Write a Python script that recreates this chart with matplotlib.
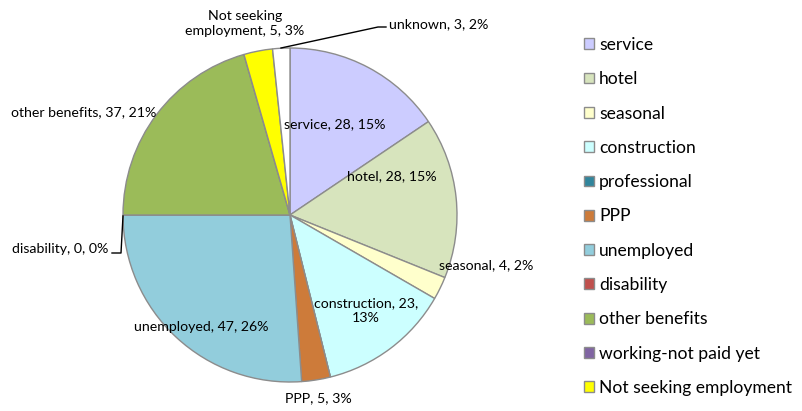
import matplotlib
matplotlib.use("Agg")
import matplotlib.pyplot as plt

plt.rcParams['font.family'] = ['Lato', 'DejaVu Sans']

categories = ['service', 'hotel', 'seasonal', 'construction', 'professional', 'PPP',
              'unemployed', 'disability', 'other benefits', 'working-not paid yet',
              'Not seeking employment', 'unknown']
counts = [28, 28, 4, 23, 0, 5, 47, 0, 37, 0, 5, 3]
pct_labels = ['15%', '15%', '2%', '13%', '0%', '3%', '26%', '0%', '21%', '0%', '3%', '2%']
colors = ['#CCCCFF', '#D7E4BD', '#FFFFCC', '#CCFFFF', '#31859C', '#CD7B3A',
          '#92CDDC', '#C0504D', '#9BBB59', '#8064A2', '#FFFF00', '#FFFFFF']

# where each data label sits (pixel coords, y from top)
label_pos = {
    'service': (335, 124, 'service, 28, 15%'),
    'hotel': (392, 176, 'hotel, 28, 15%'),
    'seasonal': (486, 265, 'seasonal, 4, 2%'),
    'construction': (366, 311, 'construction, 23,\n13%'),
    'PPP': (318, 398, 'PPP, 5, 3%'),
    'unemployed': (201, 327, 'unemployed, 47, 26%'),
    'disability': (60, 249, 'disability, 0, 0%'),
    'other benefits': (84, 112, 'other benefits, 37, 21%'),
    'Not seeking employment': (245, 23, 'Not seeking\nemployment, 5, 3%'),
    'unknown': (439, 24, 'unknown, 3, 2%'),
}

W, H = 803, 411
fig = plt.figure(figsize=(W / 100, H / 100), dpi=100)
ax = fig.add_axes([0, 0, 1, 1])

cx, cy, r = 290, H - 215, 167
wedges, _ = ax.pie(counts, colors=colors, startangle=90, counterclock=False,
                   center=(cx, cy), radius=r, frame=True,
                   wedgeprops=dict(edgecolor='#8C8C8C', linewidth=1.0))
ax.set_xlim(0, W)
ax.set_ylim(0, H)
ax.axis('off')

for name, (x, y, txt) in label_pos.items():
    ax.text(x, H - y, txt, ha='center', va='center', fontsize=10.2,
            color='black', linespacing=1.3)

# leader lines
ax.plot([112, 121, 121, 123], [H - 253, H - 253, H - 253, H - 216], color='black', lw=1)
ax.plot([281, 378, 386], [H - 48, H - 27, H - 27], color='black', lw=1)

leg = ax.legend(wedges[:-1], categories[:-1], loc='upper left',
                bbox_to_anchor=(577 / W, 1 - 30 / H), frameon=False,
                fontsize=12.6, handlelength=0.57, handleheight=0.57,
                handletextpad=0.3, labelspacing=1.045, borderaxespad=0)
for h in leg.legend_handles:
    h.set_edgecolor('#8C8C8C')

fig.savefig('out.png', dpi=100)
